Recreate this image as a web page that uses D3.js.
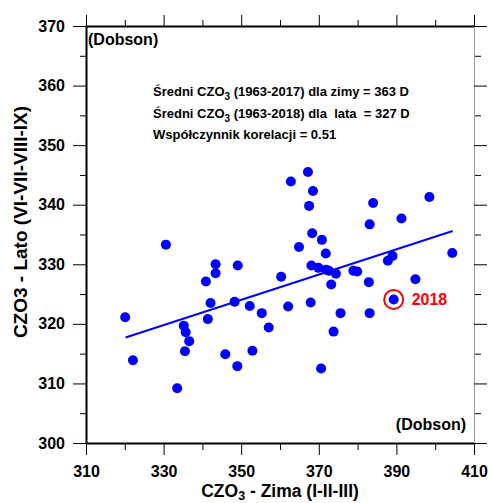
<!DOCTYPE html>
<html>
<head>
<meta charset="utf-8">
<script src="https://cdn.jsdelivr.net/npm/d3@7"></script>
<style>
  html, body { margin: 0; padding: 0; background: #fff; }
  svg { display: block; font-family: "Liberation Sans", Arial, sans-serif; font-weight: bold; }
  text { white-space: pre; }
</style>
</head>
<body>
<svg id="chart" width="489" height="503"></svg>
<script>
// Winter (I-II-III) vs summer (VI-VII-VIII-IX) total ozone, Dobson units
const winter = [367.2, 362.8, 368.5, 367.5, 384.0, 398.5, 383.1, 391.3, 368.3, 370.8,
  330.6, 364.9, 371.8, 404.4, 389.0, 387.8, 343.4, 349.1, 368.1, 369.9,
  371.9, 372.6, 343.4, 374.4, 378.9, 379.9, 360.3, 394.9, 340.9, 382.9,
  373.2, 342.1, 348.3, 367.9, 352.2, 362.1, 355.3, 375.6, 383.1, 320.1,
  341.4, 335.2, 357.1, 335.7, 373.8, 336.6, 335.5, 352.9, 345.9, 322.1,
  349.0, 370.6, 333.5];
const summer = [345.5, 343.9, 342.3, 339.8, 340.3, 341.3, 336.7, 337.7, 335.2, 334.1,
  333.3, 332.9, 331.8, 331.9, 331.4, 330.6, 330.0, 329.8, 329.8, 329.4,
  329.1, 328.9, 328.5, 328.4, 328.9, 328.8, 327.9, 327.5, 327.1, 327.0,
  326.6, 323.5, 323.7, 323.6, 323.0, 322.9, 321.8, 321.8, 321.8, 321.1,
  320.8, 319.7, 319.4, 318.6, 318.7, 317.1, 315.4, 315.5, 314.9, 313.9,
  312.9, 312.5, 309.2];

// Highlighted year
const highlightYear = "2018";
const highlightWinter = 389.3;
const highlightSummer = 324.1;

// Regression line end points
const trendWinter = [320.2, 404.5];
const trendSummer = [317.7, 335.6];

const xMajorTicks = [310, 330, 350, 370, 390, 410];
const xMinorTicks = [320, 340, 360, 380, 400];
const yMajorTicks = [300, 310, 320, 330, 340, 350, 360, 370];
const yMinorTicks = [305, 315, 325, 335, 345, 355, 365];

const statLines = [
  ["Średni CZO", "3", " (1963-2017) dla zimy = 363 D"],
  ["Średni CZO", "3", " (1963-2018) dla  lata  = 327 D"],
  ["Współczynnik korelacji = 0.51", "", ""]
];

const svg = d3.select("#chart");
const plotLeft = 86, plotRight = 474, plotTop = 26, plotBottom = 443;

const x = d3.scaleLinear().domain([310, 410]).range([plotLeft, plotRight]);
const y = d3.scaleLinear().domain([300, 370]).range([plotBottom, plotTop]);

function styleAxis(g, color, width) {
  g.select(".domain").attr("stroke", color).attr("stroke-width", width);
  g.selectAll(".tick line").attr("stroke", "#000").attr("stroke-width", 1);
}
function styleLabels(g) {
  g.selectAll("text").attr("font-size", 16).attr("font-family", "Liberation Sans, Arial")
    .attr("font-weight", "bold").attr("fill", "#000");
}
function minor(g) {
  g.select(".domain").remove();
  g.selectAll(".tick line").attr("stroke", "#000");
}

// Bottom axis
svg.append("g").attr("transform", `translate(0,${plotBottom})`)
  .call(d3.axisBottom(x).tickValues(xMinorTicks).tickSize(7).tickFormat("").tickSizeOuter(0))
  .call(minor);
svg.append("g").attr("transform", `translate(0,${plotBottom})`)
  .call(d3.axisBottom(x).tickValues(xMajorTicks).tickSize(12).tickSizeOuter(0).tickPadding(11))
  .call(g => styleAxis(g, "#000", 2))
  .call(styleLabels);

// Top axis
svg.append("g").attr("transform", `translate(0,${plotTop})`)
  .call(d3.axisTop(x).tickValues(xMinorTicks).tickSize(6).tickFormat("").tickSizeOuter(0))
  .call(minor);
svg.append("g").attr("transform", `translate(0,${plotTop})`)
  .call(d3.axisTop(x).tickValues(xMajorTicks).tickSize(11).tickFormat("").tickSizeOuter(0))
  .call(g => styleAxis(g, "#000", 2));

// Left axis
svg.append("g").attr("transform", `translate(${plotLeft},0)`)
  .call(d3.axisLeft(y).tickValues(yMinorTicks).tickSize(6).tickFormat("").tickSizeOuter(0))
  .call(minor);
svg.append("g").attr("transform", `translate(${plotLeft},0)`)
  .call(d3.axisLeft(y).tickValues(yMajorTicks).tickSize(13).tickSizeOuter(0).tickPadding(8))
  .call(g => styleAxis(g, "#000", 2))
  .call(styleLabels);

// Right axis
svg.append("g").attr("transform", `translate(${plotRight},0)`)
  .call(d3.axisRight(y).tickValues(yMinorTicks).tickSize(7).tickFormat("").tickSizeOuter(0))
  .call(minor);
svg.append("g").attr("transform", `translate(${plotRight},0)`)
  .call(d3.axisRight(y).tickValues(yMajorTicks).tickSize(13).tickFormat("").tickSizeOuter(0))
  .call(g => styleAxis(g, "#999", 1));

// Unit labels
svg.append("text").attr("x", 88).attr("y", 45)
  .attr("font-size", 16).text("(Dobson)");
svg.append("text").attr("x", 466).attr("y", 430).attr("text-anchor", "end")
  .attr("font-size", 16).text("(Dobson)");

// Summary statistics
const stats = svg.append("g");
statLines.forEach((parts, i) => {
  const t = stats.append("text").attr("x", 153).attr("y", 96 + i * 21.5).attr("font-size", 13);
  t.append("tspan").text(parts[0]);
  if (parts[1]) {
    t.append("tspan").attr("dy", 4).attr("font-size", 10).text(parts[1]);
    t.append("tspan").attr("dy", -4).text(parts[2]);
  }
});

// Trend line
svg.append("line")
  .attr("x1", x(trendWinter[0])).attr("y1", y(trendSummer[0]))
  .attr("x2", x(trendWinter[1])).attr("y2", y(trendSummer[1]))
  .attr("stroke", "#0000ff").attr("stroke-width", 2);

// Data points
svg.append("g").selectAll("circle")
  .data(d3.zip(winter, summer))
  .join("circle")
  .attr("cx", d => x(d[0])).attr("cy", d => y(d[1]))
  .attr("r", 5).attr("fill", "#0000ff");

svg.append("circle")
  .attr("cx", x(highlightWinter)).attr("cy", y(highlightSummer))
  .attr("r", 5).attr("fill", "#0000ff");
svg.append("circle")
  .attr("cx", x(highlightWinter)).attr("cy", y(highlightSummer))
  .attr("r", 9.5).attr("fill", "none").attr("stroke", "#ff0000").attr("stroke-width", 2);
svg.append("text")
  .attr("x", x(highlightWinter) + 18).attr("y", y(highlightSummer) + 6)
  .attr("font-size", 16).attr("fill", "#ff0000").text(highlightYear);

// Axis titles
const xt = svg.append("text").attr("x", (plotLeft + plotRight) / 2).attr("y", 497)
  .attr("text-anchor", "middle").attr("font-size", 17.5);
xt.append("tspan").text("CZO");
xt.append("tspan").attr("dy", 3).attr("font-size", 12.5).text("3");
xt.append("tspan").attr("dy", -3).text(" - Zima (I-II-III)");

svg.append("text")
  .attr("transform", `translate(27,222) rotate(-90)`)
  .attr("text-anchor", "middle").attr("font-size", 19)
  .text("CZO3 - Lato (VI-VII-VIII-IX)");
</script>
</body>
</html>
